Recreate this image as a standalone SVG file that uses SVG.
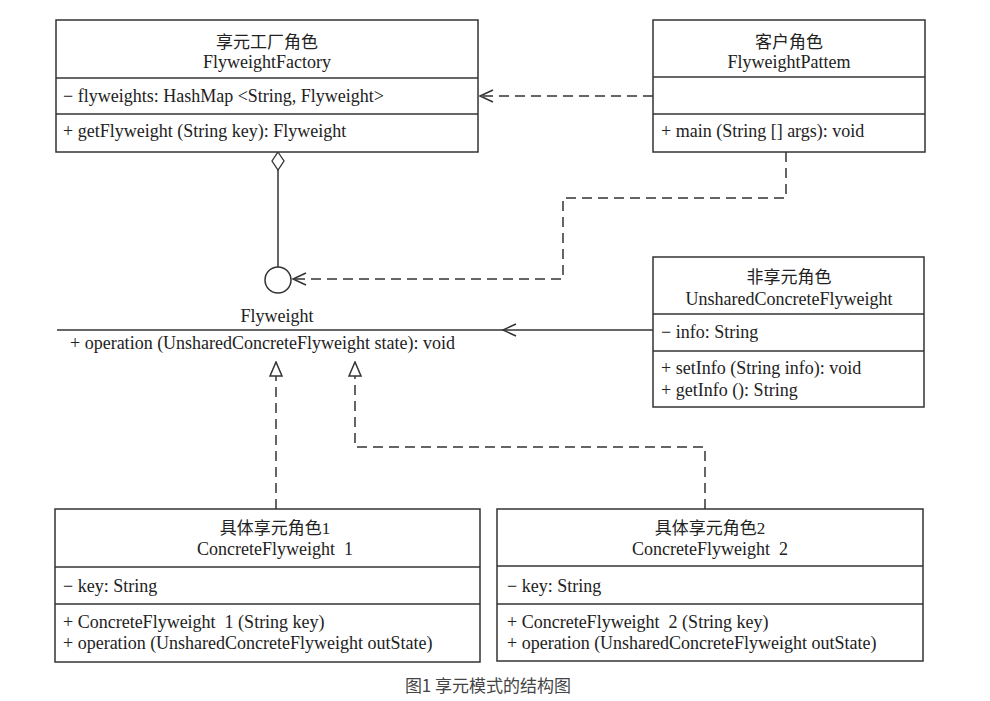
<svg xmlns="http://www.w3.org/2000/svg" width="990" height="701" viewBox="0 0 990 701">
<style>
.box{fill:#fff;stroke:#333;stroke-width:1.5}
.sep{stroke:#333;stroke-width:1.3}
.t{font-family:"Liberation Serif","Noto Sans CJK SC",serif;font-size:18px;fill:#222}
.h{font-size:17px}
.c{text-anchor:middle}
.ln{fill:none;stroke:#333;stroke-width:1.5}
.dash{stroke-dasharray:10 6}
.cap{font-family:"Noto Sans CJK SC","Liberation Sans",sans-serif;font-size:17px;fill:#444;text-anchor:middle}
</style>
<defs>
<marker id="open" markerWidth="16" markerHeight="14" refX="14" refY="7" orient="auto" markerUnits="userSpaceOnUse">
<path d="M1,1 L14,7 L1,13" fill="none" stroke="#333" stroke-width="1.5"/>
</marker>
<marker id="tri" markerWidth="16" markerHeight="18" refX="15" refY="7" orient="auto" markerUnits="userSpaceOnUse">
<path d="M1,1 L15,7 L1,13 Z" fill="#fff" stroke="#333" stroke-width="1.5"/>
</marker>
</defs>
<g id="connectors">
<line class="ln dash" x1="653" y1="96" x2="480" y2="96" marker-end="url(#open)"/>
<polyline class="ln dash" points="786,152 786,198 563,198 563,279 293,279" marker-end="url(#open)"/>
<path d="M278,152 L284,161 L278,170 L272,161 Z" fill="#fff" stroke="#333" stroke-width="1.3"/>
<line class="ln" x1="278" y1="170" x2="278" y2="267"/>
<circle cx="278" cy="280" r="13" fill="#fff" stroke="#333" stroke-width="1.5"/>
<line class="ln" x1="653" y1="330" x2="503" y2="330" marker-end="url(#open)"/>
<line class="ln dash" x1="276" y1="509" x2="276" y2="362" marker-end="url(#tri)"/>
<polyline class="ln dash" points="705,509 705,447 355,447 355,362" marker-end="url(#tri)"/>
</g>
<g id="factory">
<rect class="box" x="56" y="20" width="422" height="132"/>
<line class="sep" x1="56" y1="78" x2="478" y2="78"/>
<line class="sep" x1="56" y1="114" x2="478" y2="114"/>
<text class="t h c" x="267" y="48">享元工厂角色</text>
<text class="t c" x="267" y="68">FlyweightFactory</text>
<text class="t" x="63" y="102">− flyweights: HashMap &lt;String, Flyweight&gt;</text>
<text class="t" x="63" y="137">+ getFlyweight (String key): Flyweight</text>
</g>
<g id="client">
<rect class="box" x="653" y="20" width="272" height="132"/>
<line class="sep" x1="653" y1="77" x2="925" y2="77"/>
<line class="sep" x1="653" y1="114" x2="925" y2="114"/>
<text class="t h c" x="789" y="48">客户角色</text>
<text class="t c" x="789" y="68">FlyweightPattem</text>
<text class="t" x="661" y="137">+ main (String [] args): void</text>
</g>
<g id="flyweight">
<text class="t c" x="277" y="322">Flyweight</text>
<line class="sep" x1="57" y1="330" x2="503" y2="330"/>
<text class="t" x="70" y="349">+ operation (UnsharedConcreteFlyweight state): void</text>
</g>
<g id="unshared">
<rect class="box" x="653" y="257" width="271" height="150"/>
<line class="sep" x1="653" y1="314" x2="924" y2="314"/>
<line class="sep" x1="653" y1="351" x2="924" y2="351"/>
<text class="t h c" x="789" y="283">非享元角色</text>
<text class="t c" x="789" y="305">UnsharedConcreteFlyweight</text>
<text class="t" x="661" y="338">− info: String</text>
<text class="t" x="661" y="374">+ setInfo (String info): void</text>
<text class="t" x="661" y="396">+ getInfo (): String</text>
</g>
<g id="concrete1">
<rect class="box" x="55" y="509" width="425" height="153"/>
<line class="sep" x1="55" y1="567" x2="480" y2="567"/>
<line class="sep" x1="55" y1="604" x2="480" y2="604"/>
<text class="t h c" x="275" y="534">具体享元角色1</text>
<text class="t c" x="275" y="555" xml:space="preserve">ConcreteFlyweight  1</text>
<text class="t" x="63" y="592">− key: String</text>
<text class="t" x="63" y="628" xml:space="preserve">+ ConcreteFlyweight  1 (String key)</text>
<text class="t" x="63" y="649">+ operation (UnsharedConcreteFlyweight outState)</text>
</g>
<g id="concrete2">
<rect class="box" x="497" y="509" width="426" height="152"/>
<line class="sep" x1="497" y1="566" x2="923" y2="566"/>
<line class="sep" x1="497" y1="604" x2="923" y2="604"/>
<text class="t h c" x="710" y="534">具体享元角色2</text>
<text class="t c" x="710" y="555" xml:space="preserve">ConcreteFlyweight  2</text>
<text class="t" x="507" y="592">− key: String</text>
<text class="t" x="507" y="628" xml:space="preserve">+ ConcreteFlyweight  2 (String key)</text>
<text class="t" x="507" y="649">+ operation (UnsharedConcreteFlyweight outState)</text>
</g>
<text class="cap" x="488" y="692">图1 享元模式的结构图</text>
</svg>
